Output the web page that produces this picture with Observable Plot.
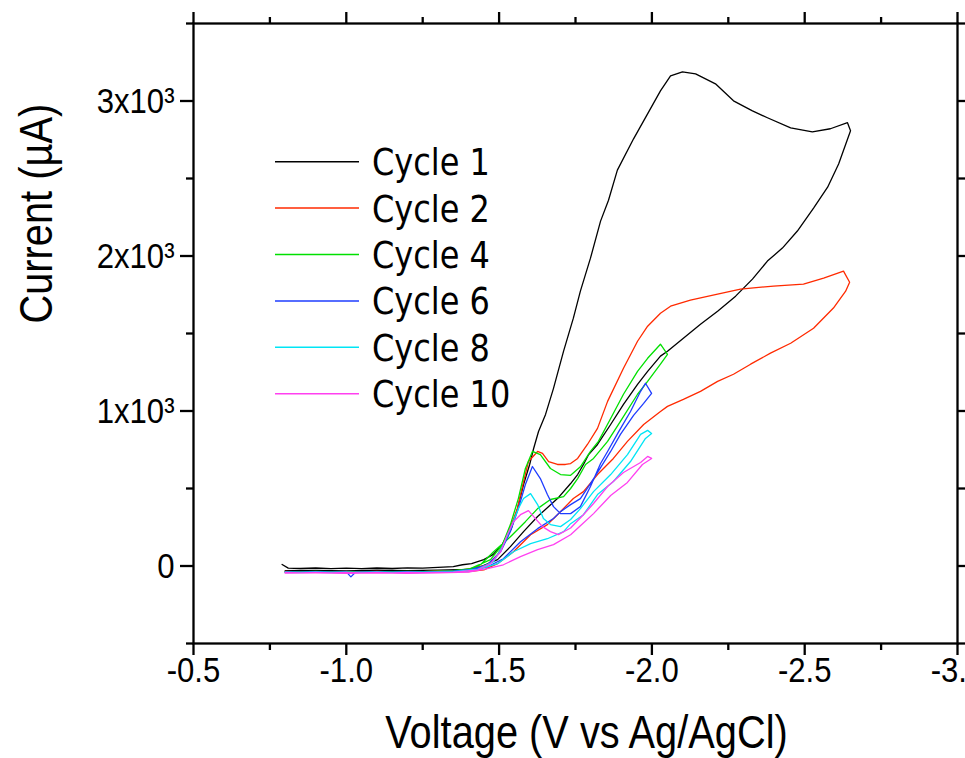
<!DOCTYPE html>
<html><head><meta charset="utf-8">
<script src="https://cdn.jsdelivr.net/npm/d3@7"></script>
<script src="https://cdn.jsdelivr.net/npm/@observablehq/plot@0.6"></script>
<style>
html,body{margin:0;padding:0;background:#fff;}
#chart{position:relative;width:965px;height:758px;overflow:hidden;}
</style></head><body><div id="chart"></div>
<script>
// [voltage (V vs Ag/AgCl), current (µA)] — forward scan then return scan
const cycle1 = [
  [-0.79,10],[-0.81,-14],[-0.85,-16],[-0.90,-13],[-0.95,-17],[-1.00,-14],[-1.05,-17],[-1.10,-13],[-1.15,-16],[-1.20,-12],[-1.25,-14],[-1.30,-9],[-1.35,-4],[-1.38,8],[-1.41,15],[-1.45,41],[-1.48,73],[-1.51,138],[-1.54,241],[-1.56,370],[-1.58,526],[-1.60,655],[-1.613,758],[-1.629,868],[-1.652,978],[-1.678,1146],[-1.711,1386],[-1.743,1599],[-1.766,1773],[-1.799,1986],[-1.832,2225],[-1.858,2360],[-1.887,2554],[-1.940,2756],[-1.995,2949],[-2.028,3065],[-2.061,3162],[-2.100,3188],[-2.143,3175],[-2.208,3111],[-2.267,3001],[-2.329,2936],[-2.378,2892],[-2.454,2827],[-2.525,2801],[-2.584,2821],[-2.640,2860],[-2.650,2808],
  [-2.611,2594],[-2.575,2444],[-2.529,2309],[-2.476,2161],[-2.427,2051],[-2.378,1967],[-2.329,1851],[-2.274,1741],[-2.215,1644],[-2.159,1560],[-2.103,1470],[-2.051,1386],[-2.028,1354],[-1.986,1256],[-1.953,1172],[-1.907,1043],[-1.865,913],[-1.822,784],[-1.793,719],[-1.776,655],[-1.757,590],[-1.734,532],[-1.691,435],[-1.626,319],[-1.580,222],[-1.537,125],[-1.495,41],[-1.439,-5],[-1.40,-22],[-1.30,-27],[-1.20,-30],[-1.10,-27],[-1.00,-31],[-0.90,-29],[-0.80,-30]
];
const cycle2 = [
  [-0.80,-35],[-0.85,-38],[-0.90,-36],[-0.95,-39],[-1.00,-36],[-1.05,-38],[-1.10,-35],[-1.15,-38],[-1.20,-36],[-1.25,-37],[-1.30,-34],[-1.35,-33],[-1.406,-17],[-1.462,8],[-1.495,73],[-1.527,202],[-1.560,370],[-1.580,545],[-1.596,674],[-1.626,739],[-1.642,726],[-1.662,674],[-1.691,655],[-1.717,655],[-1.734,661],[-1.757,694],[-1.789,784],[-1.822,888],[-1.855,1062],[-1.907,1276],[-1.953,1450],[-1.986,1547],[-2.028,1631],[-2.061,1676],[-2.126,1715],[-2.215,1754],[-2.290,1786],[-2.398,1806],[-2.496,1819],[-2.562,1857],[-2.627,1902],[-2.647,1831],
  [-2.634,1773],[-2.594,1664],[-2.529,1534],[-2.454,1437],[-2.388,1373],[-2.323,1302],[-2.267,1237],[-2.215,1191],[-2.159,1127],[-2.103,1075],[-2.051,1030],[-2.028,997],[-1.973,913],[-1.920,804],[-1.874,694],[-1.822,590],[-1.776,480],[-1.743,435],[-1.691,331],[-1.658,267],[-1.603,202],[-1.547,92],[-1.495,15],[-1.45,-25],[-1.40,-36],[-1.30,-40],[-1.20,-38],[-1.10,-41],[-1.00,-39],[-0.90,-41],[-0.80,-38]
];
const cycle4 = [
  [-0.80,-36],[-0.85,-38],[-0.90,-35],[-0.95,-38],[-1.00,-36],[-1.05,-39],[-1.10,-36],[-1.15,-37],[-1.20,-35],[-1.25,-37],[-1.30,-33],[-1.35,-30],[-1.406,-17],[-1.472,41],[-1.511,138],[-1.537,267],[-1.563,435],[-1.586,629],[-1.609,739],[-1.635,719],[-1.668,629],[-1.701,590],[-1.734,585],[-1.766,640],[-1.799,739],[-1.825,804],[-1.865,952],[-1.907,1108],[-1.953,1256],[-1.986,1340],[-2.028,1431],[-2.051,1366],
  [-2.028,1302],[-1.986,1191],[-1.953,1108],[-1.897,933],[-1.855,804],[-1.809,694],[-1.783,655],[-1.757,564],[-1.734,500],[-1.711,448],[-1.668,429],[-1.626,370],[-1.586,286],[-1.537,189],[-1.482,92],[-1.439,8],[-1.40,-30],[-1.30,-39],[-1.20,-37],[-1.10,-40],[-1.00,-38],[-0.90,-40],[-0.80,-37]
];
const cycle6 = [
  [-0.80,-38],[-0.85,-40],[-0.90,-37],[-0.95,-40],[-1.00,-38],[-1.015,-70],[-1.03,-40],[-1.10,-38],[-1.15,-40],[-1.20,-37],[-1.25,-39],[-1.30,-36],[-1.35,-34],[-1.41,-22],[-1.462,8],[-1.505,92],[-1.537,222],[-1.563,370],[-1.586,526],[-1.609,642],[-1.635,564],[-1.658,461],[-1.678,383],[-1.701,338],[-1.734,338],[-1.766,383],[-1.799,513],[-1.832,661],[-1.855,739],[-1.890,862],[-1.930,997],[-1.963,1127],[-1.979,1179],[-1.999,1114],
  [-1.973,1049],[-1.940,972],[-1.897,849],[-1.865,739],[-1.832,635],[-1.799,532],[-1.766,435],[-1.734,396],[-1.701,351],[-1.678,306],[-1.626,241],[-1.570,157],[-1.514,47],[-1.462,-5],[-1.40,-33],[-1.30,-40],[-1.20,-42],[-1.10,-39],[-1.00,-42],[-0.90,-40],[-0.80,-41]
];
const cycle8 = [
  [-0.80,-39],[-0.85,-41],[-0.90,-38],[-0.95,-41],[-1.00,-39],[-1.05,-41],[-1.10,-38],[-1.15,-41],[-1.20,-39],[-1.25,-40],[-1.30,-38],[-1.35,-36],[-1.43,-20],[-1.482,28],[-1.514,138],[-1.537,241],[-1.563,370],[-1.580,435],[-1.603,467],[-1.626,396],[-1.645,306],[-1.668,267],[-1.701,254],[-1.734,300],[-1.766,370],[-1.809,480],[-1.865,590],[-1.920,719],[-1.963,849],[-1.986,875],[-1.999,855],
  [-1.979,823],[-1.930,674],[-1.874,545],[-1.822,461],[-1.776,331],[-1.734,273],[-1.711,222],[-1.658,176],[-1.603,144],[-1.547,92],[-1.495,15],[-1.439,-17],[-1.40,-35],[-1.30,-41],[-1.20,-43],[-1.10,-40],[-1.00,-43],[-0.90,-41],[-0.80,-42]
];
const cycle10 = [
  [-0.80,-42],[-0.85,-44],[-0.90,-41],[-0.95,-44],[-1.00,-42],[-1.05,-44],[-1.10,-41],[-1.15,-44],[-1.20,-42],[-1.25,-43],[-1.30,-41],[-1.35,-39],[-1.43,-25],[-1.472,15],[-1.505,92],[-1.527,202],[-1.547,286],[-1.570,331],[-1.596,357],[-1.619,306],[-1.642,254],[-1.668,222],[-1.694,202],[-1.734,245],[-1.776,331],[-1.809,403],[-1.855,513],[-1.907,603],[-1.963,668],[-1.986,707],[-1.999,694],
  [-1.969,655],[-1.920,539],[-1.865,455],[-1.809,338],[-1.766,260],[-1.734,202],[-1.678,138],[-1.626,105],[-1.570,60],[-1.514,8],[-1.462,-17],[-1.40,-40],[-1.30,-45],[-1.20,-47],[-1.10,-44],[-1.00,-47],[-0.90,-45],[-0.80,-46]
];

const seriesNames = ["Cycle 1","Cycle 2","Cycle 4","Cycle 6","Cycle 8","Cycle 10"];
const seriesColors = ["#000000","#ff2a00","#00e000","#1e3cff","#00e5f5","#ff40f0"];
const seriesData = [cycle1, cycle2, cycle4, cycle6, cycle8, cycle10];

const xTicks = [-0.5,-1.0,-1.5,-2.0,-2.5,-3.0];
const xTickLabels = ["-0.5","-1.0","-1.5","-2.0","-2.5","-3.0"];
const xMinorTicks = [-0.75,-1.25,-1.75,-2.25,-2.75];
const yTicks = [0,1000,2000,3000];
const yTickLabels = ["0","1x10³","2x10³","3x10³"];
const yMinorTicks = [-500,500,1500,2500,3500];
const xTitle = "Voltage (V vs Ag/AgCl)";
const yTitle = "Current (µA)";

const xLab = new Map(xTicks.map((t,i)=>[t,xTickLabels[i]]));
const yLab = new Map(yTicks.map((t,i)=>[t,yTickLabels[i]]));
const SW = 2.3;
const blank = () => "";

const svg = Plot.plot({
  width: 965, height: 758,
  marginLeft: 193, marginRight: 8, marginTop: 23, marginBottom: 115,
  x: {domain: [-0.5, -3.0]},
  y: {domain: [-500, 3500]},
  style: {fontFamily: "'Liberation Sans', Arial, sans-serif", background: "#fff", color: "#000", overflow: "visible"},
  marks: [
    ...seriesData.map((data,i)=>Plot.line(data,{x:d=>d[0], y:d=>d[1], stroke:seriesColors[i], strokeWidth:1.3})),
    Plot.frame({strokeWidth: SW}),
    Plot.axisX({anchor:"bottom", ticks:xTicks, tickSize:12, tickPadding:1, tickFormat:d=>xLab.get(d), fontSize:36, label:null, strokeWidth:SW}),
    Plot.axisX({anchor:"bottom", ticks:xMinorTicks, tickSize:7, tickFormat:blank, label:null, strokeWidth:SW}),
    Plot.axisX({anchor:"top", ticks:xTicks, tickSize:12, tickFormat:blank, label:null, strokeWidth:SW}),
    Plot.axisX({anchor:"top", ticks:xMinorTicks, tickSize:7, tickFormat:blank, label:null, strokeWidth:SW}),
    Plot.axisY({anchor:"left", ticks:yTicks, tickSize:13, tickPadding:6, tickFormat:d=>yLab.get(d), fontSize:36, label:null, strokeWidth:SW}),
    Plot.axisY({anchor:"left", ticks:yMinorTicks, tickSize:7, tickFormat:blank, label:null, strokeWidth:SW}),
    Plot.axisY({anchor:"right", ticks:yTicks, tickSize:13, tickFormat:blank, label:null, strokeWidth:SW}),
    Plot.axisY({anchor:"right", ticks:yMinorTicks, tickSize:7, tickFormat:blank, label:null, strokeWidth:SW}),
    Plot.text([xTitle], {frameAnchor:"bottom", text:d=>d, dx:11, dy:89.5, lineAnchor:"middle", fontSize:46}),
    Plot.text([yTitle], {frameAnchor:"left", text:d=>d, rotate:-90, dx:-156, dy:-10, lineAnchor:"middle", fontSize:46})
  ]
});

// horizontally condense all text, as in the original figure
const K = 0.865;
d3.select(svg).selectAll("text").each(function(){
  const t = this.getAttribute("transform");
  if (t) { this.setAttribute("transform", t + ` scale(${K},1)`); }
  else {
    const x = +(this.getAttribute("x")||0), y = +(this.getAttribute("y")||0);
    this.removeAttribute("x"); this.removeAttribute("y");
    this.setAttribute("transform", `translate(${x},${y}) scale(${K},1)`);
  }
});

// legend
const leg = d3.select(svg).append("g")
  .attr("font-family","'DejaVu Sans', Verdana, sans-serif").attr("font-size",37)
  .attr("fill","#000").attr("text-anchor","start");
seriesNames.forEach((name,i)=>{
  const y = 161.7 + 46.4*i;
  leg.append("line").attr("x1",275).attr("x2",359).attr("y1",y).attr("y2",y)
    .attr("stroke",seriesColors[i]).attr("stroke-width",1.5);
  leg.append("text").attr("text-anchor","start")
    .attr("transform",`translate(372,${y+13.5}) scale(${K},1)`).text(name);
});

document.getElementById("chart").appendChild(svg);
</script></body></html>
